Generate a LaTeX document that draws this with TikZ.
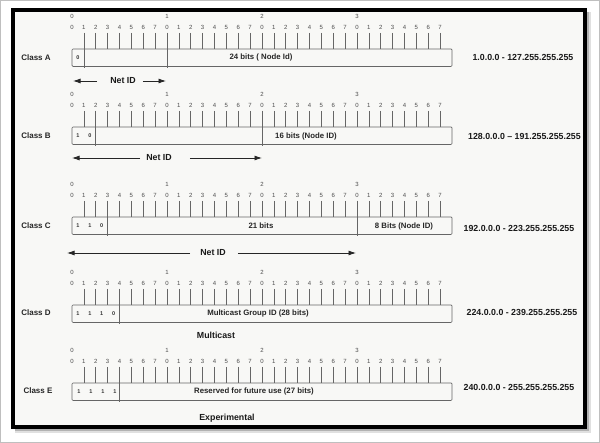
\documentclass[tikz,border=0pt]{standalone}
\usepackage{fontspec}
\setmainfont{Liberation Sans}
\usetikzlibrary{arrows.meta}
\definecolor{paper}{HTML}{F8F8F6}
\begin{document}
\begin{tikzpicture}[x=1pt,y=-1pt,
    bitnum/.style={font=\fontsize{6}{7}\selectfont,text=black!70,inner sep=0pt},
    bitval/.style={font=\bfseries\fontsize{5.5}{6}\selectfont,text=black!80,inner sep=0pt},
    tickline/.style={draw=black!60,line width=0.7pt},
    fieldbox/.style={draw=black!60,line width=0.7pt,rounded corners=1pt},
    fieldtext/.style={font=\bfseries\fontsize{7.8}{9}\selectfont,text=black!85,inner sep=0pt},
    classname/.style={font=\bfseries\fontsize{8}{9}\selectfont,text=black!85,inner sep=0pt},
    iprange/.style={font=\bfseries\fontsize{8.8}{10}\selectfont,text=black!90,inner sep=0pt},
    captext/.style={font=\bfseries\fontsize{8.8}{10}\selectfont,text=black!90,inner sep=0pt},
    netarrow/.style={->,draw=black!85,line width=0.8pt},
    >={Latex[length=7.5pt,width=5pt]}]
    \useasboundingbox (0,0) rectangle (600,443);
    \fill[white] (0,0) rectangle (600,443);
    \draw[black!25] (0.5,0.5) rectangle (599.5,442.5);
    % shadow and paper
    \fill[black!12] (15,12) rectangle (591,433);
    \fill[black!30] (15,12) rectangle (589,431);
    \fill[paper] (13,10) rectangle (585,427);

    % bit rulers and boxes
    \foreach \cls/\ytop in {A/49,B/127,C/217,D/305,E/383} {
        \foreach \g in {0,...,3}
            \node[bitnum] (g\cls\g) at (72+95*\g,\ytop-33) {\g};
        \foreach \i in {0,...,31} {
            \pgfmathtruncatemacro\d{mod(\i,8)}
            \node[bitnum] (b\cls\i) at (72+11.875*\i,\ytop-22) {\d};
        }
        \foreach \i in {1,...,31}
            \draw[tickline] (72+11.875*\i,\ytop-16) -- (72+11.875*\i,\ytop);
        \draw[fieldbox] (72,\ytop) rectangle (452,\ytop+17.5);
    }

    \begin{scope}
    \clip (13,10) rectangle (585,427);
    % Class A
    \node[classname] (clsA) at (36,57.5) {Class A};
    \draw[tickline] (83.875,33) -- (83.875,68.5);
    \draw[tickline] (167,33) -- (167,68.5);
    \node[bitval] (vA0) at (77.9,57.5) {0};
    \node[fieldtext] (hostA) at (261,57.5) {24 bits ( Node Id)};
    \node[iprange] (rangeA) at (523,57.5) {1.0.0.0 - 127.255.255.255};
    \node[captext] (netA) at (123,81) {Net ID};
    \coordinate (netAl) at (73,81);
    \coordinate (netAr) at (166,81);
    \draw[netarrow] ([xshift=-13pt]netA.west) -- (netAl);
    \draw[netarrow] ([xshift=7pt]netA.east) -- (netAr);

    % Class B
    \node[classname] (clsB) at (36,136) {Class B};
    \draw[tickline] (95.75,111) -- (95.75,146.5);
    \draw[tickline] (262,111) -- (262,146.5);
    \node[bitval] (vB0) at (77.9,136) {1};
    \node[bitval] (vB1) at (89.8,136) {0};
    \node[fieldtext] (hostB) at (306,136) {16 bits (Node ID)};
    \node[iprange,anchor=west] (rangeB) at (468,136) {128.0.0.0 -- 191.255.255.255};
    \node[captext] (netB) at (159,158) {Net ID};
    \coordinate (netBl) at (72,158);
    \coordinate (netBr) at (262,158);
    \draw[netarrow] ([xshift=-6pt]netB.west) -- (netBl);
    \draw[netarrow] ([xshift=18pt]netB.east) -- (netBr);

    % Class C
    \node[classname] (clsC) at (36,226) {Class C};
    \draw[tickline] (107.625,201) -- (107.625,236.5);
    \draw[tickline] (357,201) -- (357,236.5);
    \node[bitval] (vC0) at (77.9,226) {1};
    \node[bitval] (vC1) at (89.8,226) {1};
    \node[bitval] (vC2) at (101.7,226) {0};
    \node[fieldtext] (netfieldC) at (261,226) {21 bits};
    \node[fieldtext] (hostC) at (404,226) {8 Bits (Node ID)};
    \node[iprange] (rangeC) at (519,228) {192.0.0.0 - 223.255.255.255};
    \node[captext] (netC) at (213,253) {Net ID};
    \coordinate (netCl) at (67,253);
    \coordinate (netCr) at (356,253);
    \draw[netarrow] ([xshift=-10pt]netC.west) -- (netCl);
    \draw[netarrow] ([xshift=12pt]netC.east) -- (netCr);

    % Class D
    \node[classname] (clsD) at (36,313) {Class D};
    \draw[tickline] (119.5,289) -- (119.5,324.5);
    \node[bitval] (vD0) at (77.9,313.5) {1};
    \node[bitval] (vD1) at (89.8,313.5) {1};
    \node[bitval] (vD2) at (101.7,313.5) {1};
    \node[bitval] (vD3) at (113.6,313.5) {0};
    \node[fieldtext] (groupD) at (258,313.5) {Multicast Group ID (28 bits)};
    \node[iprange] (rangeD) at (522,312) {224.0.0.0 - 239.255.255.255};
    \node[captext] (multi) at (216,335) {Multicast};

    % Class E
    \node[classname] (clsE) at (38,391) {Class E};
    \draw[tickline] (119.5,367) -- (119.5,402.5);
    \node[bitval] (vE0) at (79,391.5) {1};
    \node[bitval] (vE1) at (91,391.5) {1};
    \node[bitval] (vE2) at (103,391.5) {1};
    \node[bitval] (vE3) at (115,391.5) {1};
    \node[fieldtext] (resE) at (254,391.5) {Reserved for future use (27 bits)};
    \node[iprange] (rangeE) at (519,387) {240.0.0.0 - 255.255.255.255};
    \node[captext] (exper) at (227,418) {Experimental};
    \end{scope}

    % frame
    \draw[line width=3.5pt] (13,10) rectangle (585,427);
\end{tikzpicture}
\end{document}
